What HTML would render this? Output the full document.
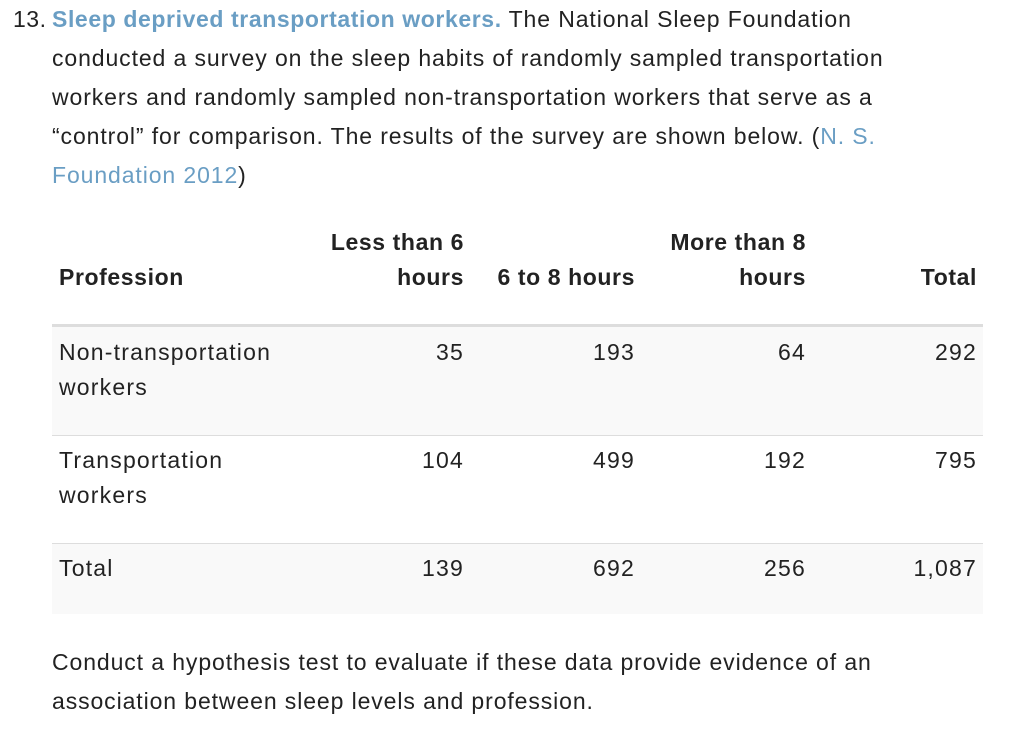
<!DOCTYPE html>
<html><head><meta charset="utf-8">
<style>
html,body{margin:0;padding:0;background:#fff;}
body{width:1024px;height:733px;position:relative;overflow:hidden;font-family:"Liberation Sans",sans-serif;font-size:23px;letter-spacing:0.9px;color:#222;}
.p{position:absolute;left:52px;line-height:39px;white-space:nowrap;}
.num{position:absolute;left:13px;top:0;line-height:39px;letter-spacing:0.5px;}
a{color:#6a9ec4;text-decoration:none;}
b.t{color:#6a9ec4;letter-spacing:0.6px;}
.cell{position:absolute;line-height:35px;letter-spacing:1.2px;white-space:nowrap;}
.r{text-align:right;}
.hd{font-weight:bold;letter-spacing:0.6px;}
.band{position:absolute;left:52px;width:931px;}
</style></head><body>
<div class="num">13.</div>
<div class="p" style="top:0">
<b class="t">Sleep deprived transportation workers.</b> The National Sleep Foundation<br>
conducted a survey on the sleep habits of randomly sampled transportation<br>
workers and randomly sampled non-transportation workers that serve as a<br>
“control” for comparison. The results of the survey are shown below. (<a href="#">N. S.<br>Foundation 2012</a>)
</div>

<div class="band" style="top:324px;height:3px;background:#ddd"></div>
<div class="band" style="top:327px;height:108px;background:#f9f9f9"></div>
<div class="band" style="top:435px;height:1px;background:#ddd"></div>
<div class="band" style="top:543px;height:1px;background:#ddd"></div>
<div class="band" style="top:544px;height:70px;background:#f9f9f9"></div>

<div>
<div class="cell hd" style="left:59px;top:260px">Profession</div>
<div class="cell hd r" style="left:280px;width:184px;top:225px">Less than 6<br>hours</div>
<div class="cell hd r" style="left:470px;width:165px;top:260px">6 to 8 hours</div>
<div class="cell hd r" style="left:621px;width:185px;top:225px">More than 8<br>hours</div>
<div class="cell hd r" style="left:812px;width:165px;top:260px">Total</div>

<div class="cell" style="left:59px;top:335px">Non-transportation<br>workers</div>
<div class="cell r" style="left:300px;width:164px;top:335px">35</div>
<div class="cell r" style="left:470px;width:165px;top:335px">193</div>
<div class="cell r" style="left:641px;width:165px;top:335px">64</div>
<div class="cell r" style="left:812px;width:165px;top:335px">292</div>

<div class="cell" style="left:59px;top:443px">Transportation<br>workers</div>
<div class="cell r" style="left:300px;width:164px;top:443px">104</div>
<div class="cell r" style="left:470px;width:165px;top:443px">499</div>
<div class="cell r" style="left:641px;width:165px;top:443px">192</div>
<div class="cell r" style="left:812px;width:165px;top:443px">795</div>

<div class="cell" style="left:59px;top:551px">Total</div>
<div class="cell r" style="left:300px;width:164px;top:551px">139</div>
<div class="cell r" style="left:470px;width:165px;top:551px">692</div>
<div class="cell r" style="left:641px;width:165px;top:551px">256</div>
<div class="cell r" style="left:812px;width:165px;top:551px">1,087</div>
</div>

<div class="p" style="top:643px">Conduct a hypothesis test to evaluate if these data provide evidence of an<br>association between sleep levels and profession.</div>
</body></html>
